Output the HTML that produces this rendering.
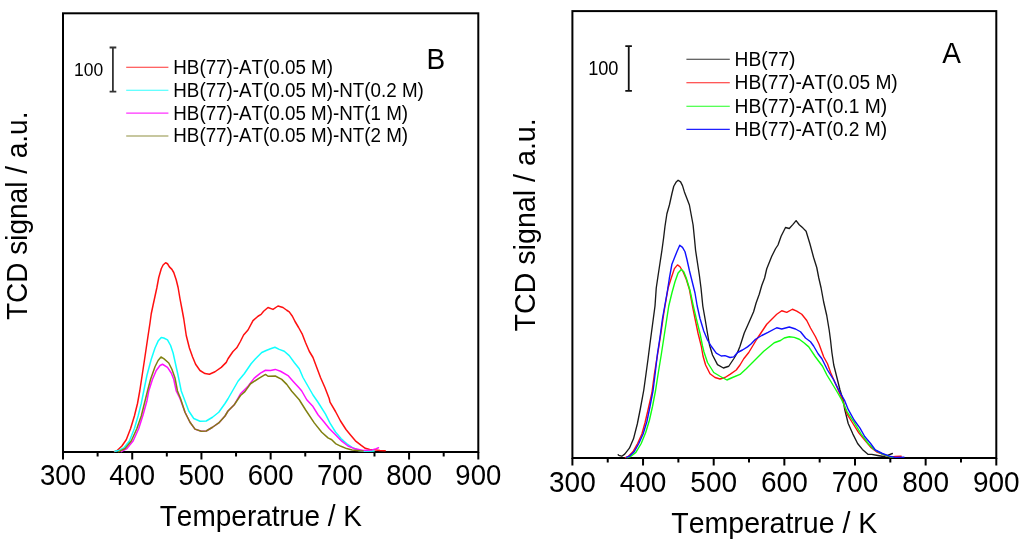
<!DOCTYPE html>
<html><head><meta charset="utf-8"><style>
html,body{margin:0;padding:0;background:#fff;}
body{width:1024px;height:544px;overflow:hidden;position:relative;}
svg{position:absolute;left:0;top:0;will-change:transform;}
text{font-family:"Liberation Sans",sans-serif;fill:#000;font-kerning:none;font-feature-settings:"kern" 0;}
.c{fill:none;stroke-linejoin:round;stroke-linecap:round;}
</style></head><body>
<svg width="1024" height="544" viewBox="0 0 1024 544">
<rect width="1024" height="544" fill="#fff"/>
<!-- LEFT PANEL (B) -->
<rect x="63.0" y="13.3" width="415.30" height="438.70" fill="none" stroke="#000" stroke-width="2"/>
<line x1="63.00" y1="452.0" x2="63.00" y2="459.5" stroke="#000" stroke-width="2"/>
<text transform="translate(63.00,485.3) scale(1,1.095)" text-anchor="middle" style="font-size:27.5px">300</text>
<line x1="97.61" y1="452.0" x2="97.61" y2="456.5" stroke="#000" stroke-width="2"/>
<line x1="132.22" y1="452.0" x2="132.22" y2="459.5" stroke="#000" stroke-width="2"/>
<text transform="translate(132.22,485.3) scale(1,1.095)" text-anchor="middle" style="font-size:27.5px">400</text>
<line x1="166.82" y1="452.0" x2="166.82" y2="456.5" stroke="#000" stroke-width="2"/>
<line x1="201.43" y1="452.0" x2="201.43" y2="459.5" stroke="#000" stroke-width="2"/>
<text transform="translate(201.43,485.3) scale(1,1.095)" text-anchor="middle" style="font-size:27.5px">500</text>
<line x1="236.04" y1="452.0" x2="236.04" y2="456.5" stroke="#000" stroke-width="2"/>
<line x1="270.65" y1="452.0" x2="270.65" y2="459.5" stroke="#000" stroke-width="2"/>
<text transform="translate(270.65,485.3) scale(1,1.095)" text-anchor="middle" style="font-size:27.5px">600</text>
<line x1="305.26" y1="452.0" x2="305.26" y2="456.5" stroke="#000" stroke-width="2"/>
<line x1="339.87" y1="452.0" x2="339.87" y2="459.5" stroke="#000" stroke-width="2"/>
<text transform="translate(339.87,485.3) scale(1,1.095)" text-anchor="middle" style="font-size:27.5px">700</text>
<line x1="374.48" y1="452.0" x2="374.48" y2="456.5" stroke="#000" stroke-width="2"/>
<line x1="409.08" y1="452.0" x2="409.08" y2="459.5" stroke="#000" stroke-width="2"/>
<text transform="translate(409.08,485.3) scale(1,1.095)" text-anchor="middle" style="font-size:27.5px">800</text>
<line x1="443.69" y1="452.0" x2="443.69" y2="456.5" stroke="#000" stroke-width="2"/>
<line x1="478.30" y1="452.0" x2="478.30" y2="459.5" stroke="#000" stroke-width="2"/>
<text transform="translate(478.30,485.3) scale(1,1.095)" text-anchor="middle" style="font-size:27.5px">900</text>
<text transform="translate(260.9,525.9) scale(1,1.06)" text-anchor="middle" style="font-size:28px">Temperatrue / K</text>
<text transform="translate(27.4,215.8) rotate(-90) scale(1,1.067)" text-anchor="middle" style="font-size:28px">TCD signal / a.u.</text>
<text transform="translate(435.9,68.7) scale(1,1.084)" text-anchor="middle" style="font-size:28px">B</text>
<path d="M109.6,47.5 H116.3 M112.9,47.5 V91.6 M109.6,91.6 H116.3" stroke="#333" stroke-width="1.8" fill="none"/>
<text transform="translate(88.7,76.2) scale(1,1.07)" text-anchor="middle" style="font-size:17.5px">100</text>
<line x1="126.2" y1="67.3" x2="168.4" y2="67.3" stroke="#ff3030" stroke-width="1.1"/>
<line x1="126.2" y1="90.2" x2="168.4" y2="90.2" stroke="#30ffff" stroke-width="1.1"/>
<line x1="126.2" y1="113.1" x2="168.4" y2="113.1" stroke="#ff30ff" stroke-width="1.1"/>
<line x1="126.2" y1="136" x2="168.4" y2="136" stroke="#909040" stroke-width="1.1"/>
<text transform="translate(173.3,74.0) scale(1,1.07)" text-anchor="start" style="font-size:18.8px">HB(77)-AT(0.05 M)</text>
<text transform="translate(173.3,96.7) scale(1,1.07)" text-anchor="start" style="font-size:18.8px">HB(77)-AT(0.05 M)-NT(0.2 M)</text>
<text transform="translate(173.3,119.7) scale(1,1.07)" text-anchor="start" style="font-size:18.8px">HB(77)-AT(0.05 M)-NT(1 M)</text>
<text transform="translate(173.3,142.1) scale(1,1.07)" text-anchor="start" style="font-size:18.8px">HB(77)-AT(0.05 M)-NT(2 M)</text>
<polyline class="c" stroke="#ff1010" stroke-width="1.5" points="114.40,451.60 116.90,450.75 121.90,446.00 126.25,439.75 130.60,428.50 134.40,416.00 137.50,403.50 139.75,391.00 142.50,373.00 144.40,360.50 146.25,348.00 148.10,335.50 150.00,323.00 151.25,313.75 153.10,305.00 155.00,296.25 156.90,287.50 158.75,277.50 161.25,268.75 163.10,265.00 165.60,262.75 167.50,263.75 169.40,266.90 171.90,269.40 173.75,272.50 176.25,280.00 178.10,287.50 180.00,298.75 181.90,308.75 183.75,318.75 186.25,335.50 189.40,348.00 192.50,356.75 195.60,364.25 200.00,370.50 205.00,373.60 209.40,374.25 215.00,371.75 221.25,367.40 226.25,362.40 228.00,358.75 233.00,351.50 236.75,347.80 240.50,341.25 243.60,335.00 248.00,330.00 253.00,320.60 258.00,316.25 261.10,314.40 263.60,311.25 268.00,307.50 273.00,309.40 278.00,306.00 283.00,307.50 286.75,310.25 289.25,311.90 292.40,316.25 294.90,321.25 298.60,327.50 302.40,334.40 305.50,342.50 309.25,351.25 313.00,357.50 316.75,367.50 320.50,377.50 324.90,387.50 329.25,398.75 330.00,402.20 335.50,411.50 340.50,421.00 346.00,429.50 350.50,435.00 355.40,440.80 360.90,445.20 365.30,448.30 369.70,449.40 374.10,449.70 380.00,450.50 385.20,450.80"/>
<polyline class="c" stroke="#10ffff" stroke-width="1.5" points="115.00,451.25 118.75,450.40 123.75,447.90 129.40,441.00 134.40,428.50 138.10,416.00 141.25,403.50 143.75,391.00 146.90,375.50 151.25,359.25 155.00,348.00 158.10,341.10 161.25,337.40 163.75,338.00 167.50,339.90 170.60,345.50 173.10,353.00 175.60,364.25 178.10,375.50 181.25,391.00 185.00,401.00 188.75,411.00 193.75,418.50 200.00,421.25 206.25,421.00 212.50,417.25 218.75,412.25 225.00,403.50 228.00,398.75 233.00,390.00 238.00,381.25 244.25,373.75 251.10,363.75 255.50,358.75 261.75,352.50 266.75,350.25 270.50,348.75 274.90,347.25 279.25,349.40 284.25,351.25 289.25,355.60 294.25,362.50 299.25,368.75 303.00,377.50 308.00,386.25 313.00,395.00 318.00,402.25 325.50,414.10 330.00,423.20 335.50,432.00 341.00,438.60 346.60,443.60 353.20,448.00 358.70,450.50 363.10,451.30 374.10,451.00"/>
<polyline class="c" stroke="#ff10ff" stroke-width="1.5" points="121.25,451.60 126.90,448.50 133.10,441.00 138.75,428.50 143.10,414.75 146.90,401.00 148.75,391.00 152.50,379.25 156.25,370.50 160.00,365.50 162.50,364.25 167.50,367.40 171.25,373.00 173.75,379.25 176.25,391.00 180.00,398.50 185.00,412.25 190.00,422.25 195.00,429.10 201.25,431.25 206.25,431.00 212.50,427.25 218.75,422.90 225.00,416.00 228.00,411.00 234.25,404.75 240.50,393.75 248.00,386.25 254.25,378.10 260.50,373.10 265.50,370.25 270.50,370.60 275.25,369.40 280.50,371.25 288.00,375.60 293.00,381.25 299.25,388.10 301.75,391.00 306.75,399.75 313.00,406.60 318.00,414.75 324.25,422.25 329.25,428.50 335.50,434.75 341.75,441.20 348.00,446.00 354.30,448.60 363.10,450.50 372.00,449.90 376.30,448.60 378.50,447.70"/>
<polyline class="c" stroke="#808010" stroke-width="1.5" points="118.75,451.60 125.00,448.50 131.25,441.00 136.90,428.50 141.25,416.00 145.00,401.00 147.50,391.00 150.60,379.25 155.00,366.75 158.10,360.50 161.00,357.00 163.75,358.60 168.75,363.00 171.90,369.25 175.00,378.00 177.50,391.00 180.50,398.50 185.00,412.25 190.00,422.25 195.00,429.10 201.25,431.25 206.25,431.00 212.50,427.25 218.75,422.90 225.00,416.00 228.00,411.00 234.25,404.75 240.50,395.50 244.90,391.60 250.50,383.75 259.25,378.10 265.50,374.40 268.00,376.25 275.25,376.00 281.75,379.40 286.75,384.40 291.75,391.25 299.25,399.75 305.50,409.75 314.25,422.90 321.75,432.25 328.00,437.90 331.75,439.75 335.50,443.60 341.00,446.30 346.60,448.60 352.10,449.90 359.80,450.80 363.10,451.00"/>
<!-- RIGHT PANEL (A) -->
<rect x="572.4" y="11.1" width="423.90" height="446.90" fill="none" stroke="#000" stroke-width="2"/>
<line x1="572.40" y1="458.0" x2="572.40" y2="465.5" stroke="#000" stroke-width="2"/>
<text transform="translate(572.40,492.1) scale(1,1.08)" text-anchor="middle" style="font-size:28px">300</text>
<line x1="607.73" y1="458.0" x2="607.73" y2="462.5" stroke="#000" stroke-width="2"/>
<line x1="643.05" y1="458.0" x2="643.05" y2="465.5" stroke="#000" stroke-width="2"/>
<text transform="translate(643.05,492.1) scale(1,1.08)" text-anchor="middle" style="font-size:28px">400</text>
<line x1="678.38" y1="458.0" x2="678.38" y2="462.5" stroke="#000" stroke-width="2"/>
<line x1="713.70" y1="458.0" x2="713.70" y2="465.5" stroke="#000" stroke-width="2"/>
<text transform="translate(713.70,492.1) scale(1,1.08)" text-anchor="middle" style="font-size:28px">500</text>
<line x1="749.02" y1="458.0" x2="749.02" y2="462.5" stroke="#000" stroke-width="2"/>
<line x1="784.35" y1="458.0" x2="784.35" y2="465.5" stroke="#000" stroke-width="2"/>
<text transform="translate(784.35,492.1) scale(1,1.08)" text-anchor="middle" style="font-size:28px">600</text>
<line x1="819.67" y1="458.0" x2="819.67" y2="462.5" stroke="#000" stroke-width="2"/>
<line x1="855.00" y1="458.0" x2="855.00" y2="465.5" stroke="#000" stroke-width="2"/>
<text transform="translate(855.00,492.1) scale(1,1.08)" text-anchor="middle" style="font-size:28px">700</text>
<line x1="890.32" y1="458.0" x2="890.32" y2="462.5" stroke="#000" stroke-width="2"/>
<line x1="925.65" y1="458.0" x2="925.65" y2="465.5" stroke="#000" stroke-width="2"/>
<text transform="translate(925.65,492.1) scale(1,1.08)" text-anchor="middle" style="font-size:28px">800</text>
<line x1="960.97" y1="458.0" x2="960.97" y2="462.5" stroke="#000" stroke-width="2"/>
<line x1="996.30" y1="458.0" x2="996.30" y2="465.5" stroke="#000" stroke-width="2"/>
<text transform="translate(996.30,492.1) scale(1,1.08)" text-anchor="middle" style="font-size:28px">900</text>
<text transform="translate(774.3,532.8) scale(1,1.03)" text-anchor="middle" style="font-size:28.55px">Temperatrue / K</text>
<text transform="translate(535.4,224.9) rotate(-90) scale(1,1.037)" text-anchor="middle" style="font-size:28.65px">TCD signal / a.u.</text>
<text transform="translate(951.6,62.8) scale(1,1.035)" text-anchor="middle" style="font-size:28px">A</text>
<path d="M625.3,46.1 H631.9 M628.75,46.1 V90.9 M625.3,90.9 H631.9" stroke="#111" stroke-width="1.8" fill="none"/>
<text transform="translate(603.3,75.3) scale(1,1.07)" text-anchor="middle" style="font-size:18.2px">100</text>
<line x1="686.4" y1="59.3" x2="729.8" y2="59.3" stroke="#333" stroke-width="1.1"/>
<line x1="686.4" y1="82.8" x2="729.8" y2="82.8" stroke="#ff2020" stroke-width="1.1"/>
<line x1="686.4" y1="106.2" x2="729.8" y2="106.2" stroke="#20ff20" stroke-width="1.1"/>
<line x1="686.4" y1="129.4" x2="729.8" y2="129.4" stroke="#2020ff" stroke-width="1.1"/>
<text transform="translate(734.6,65.8) scale(1,1.07)" text-anchor="start" style="font-size:19.2px">HB(77)</text>
<text transform="translate(734.6,89.2) scale(1,1.07)" text-anchor="start" style="font-size:19.2px">HB(77)-AT(0.05 M)</text>
<text transform="translate(734.6,112.6) scale(1,1.07)" text-anchor="start" style="font-size:19.2px">HB(77)-AT(0.1 M)</text>
<text transform="translate(734.6,136) scale(1,1.07)" text-anchor="start" style="font-size:19.2px">HB(77)-AT(0.2 M)</text>
<polyline class="c" stroke="#1a1a1a" stroke-width="1.35" points="618.20,454.70 618.80,455.30 621.80,456.20 624.70,454.10 629.40,448.20 633.50,438.80 637.30,424.00 640.30,409.00 643.75,390.25 646.00,374.00 648.10,358.50 650.00,343.50 652.50,324.75 655.00,306.00 656.25,288.00 658.10,275.50 660.00,263.00 661.90,250.50 663.60,238.00 665.00,226.25 666.90,213.75 669.40,205.00 671.90,193.75 673.75,186.25 676.25,181.90 678.10,180.25 680.60,181.90 682.50,185.60 684.40,191.90 687.50,200.00 689.40,205.00 691.25,215.00 693.10,225.00 694.40,238.00 695.60,250.50 697.50,263.00 699.40,275.50 701.00,288.00 702.80,306.00 705.00,318.50 707.50,333.50 709.50,345.00 712.50,355.00 717.50,364.60 723.40,368.00 728.75,366.25 733.75,358.75 737.50,352.50 740.00,346.25 742.00,340.00 744.25,333.00 749.25,321.75 753.60,311.75 756.10,303.00 759.25,294.25 761.75,285.50 764.60,278.00 766.75,268.75 769.25,262.50 771.75,256.25 775.50,248.75 778.00,245.00 781.10,236.25 785.50,227.50 789.25,228.50 793.00,224.40 796.10,220.60 799.25,224.75 803.00,228.10 806.10,231.25 809.90,243.75 813.60,257.50 816.75,267.50 818.80,278.00 821.10,288.00 823.60,301.75 826.75,315.50 829.25,330.50 830.50,340.00 831.90,352.50 833.75,365.00 836.90,377.50 840.00,390.00 843.10,400.00 844.70,409.40 848.20,423.50 852.90,434.10 857.60,443.50 862.40,449.40 868.20,454.40 871.80,454.40 877.60,455.50 883.50,456.50 888.20,455.10 892.40,453.50"/>
<polyline class="c" stroke="#ff1010" stroke-width="1.4" points="625.30,457.60 628.20,456.50 632.90,451.80 637.60,443.50 641.90,434.00 645.00,422.75 648.00,410.00 651.90,392.75 654.40,374.00 656.25,362.25 658.75,347.25 661.25,331.00 663.75,313.50 665.00,306.00 668.10,288.00 671.25,278.00 674.40,268.60 677.50,264.90 680.00,266.75 683.10,271.75 686.25,279.25 689.40,289.25 692.50,306.00 695.00,318.50 698.10,333.50 701.25,346.00 703.00,356.00 705.60,365.00 710.00,373.75 715.00,377.50 720.00,379.00 725.00,377.50 730.00,374.40 736.25,370.00 740.00,365.00 743.75,358.75 748.75,352.50 752.50,346.25 756.75,339.25 761.75,331.75 766.75,324.25 771.75,319.25 776.75,314.25 781.75,310.75 786.75,312.40 792.40,309.25 796.75,311.10 801.75,314.25 806.75,320.50 810.50,328.00 815.50,336.75 819.00,344.00 823.75,357.00 827.50,363.75 830.60,372.50 834.40,381.25 838.75,391.25 842.40,399.50 847.10,414.10 852.90,423.50 858.80,432.90 864.70,440.00 870.60,447.10 876.50,451.80 883.50,454.70 890.60,457.10 895.30,456.50 901.20,456.20"/>
<polyline class="c" stroke="#10ff10" stroke-width="1.4" points="627.00,457.60 630.60,456.50 635.90,452.40 641.20,443.50 645.60,432.75 649.40,420.25 652.50,406.50 655.60,390.25 658.10,374.00 661.25,354.75 663.75,338.50 666.25,322.25 668.75,306.00 671.90,293.00 675.00,281.75 678.10,273.00 681.25,269.50 683.75,271.75 686.25,278.00 690.00,290.50 693.30,306.00 696.25,318.50 700.00,333.50 702.50,346.00 704.00,352.00 707.50,362.50 713.75,372.50 720.00,376.25 726.90,380.00 732.50,377.50 740.00,374.40 746.25,368.75 752.50,362.50 758.75,356.25 763.75,351.25 770.00,346.25 774.25,342.75 780.50,340.50 784.25,338.00 789.25,336.75 794.25,337.40 799.25,339.25 804.25,343.00 808.75,346.90 815.00,356.25 822.50,366.25 826.90,375.00 833.75,386.25 837.50,392.50 841.80,400.00 847.10,411.80 854.10,422.40 861.20,434.10 868.20,443.50 874.10,449.40 881.20,453.50 888.20,456.20 892.90,457.40"/>
<polyline class="c" stroke="#1010ff" stroke-width="1.4" points="626.50,457.40 629.40,456.20 634.10,451.80 638.80,443.50 643.10,434.00 646.90,421.50 650.00,406.50 653.10,390.25 655.10,374.00 657.50,353.50 660.00,337.25 662.50,318.50 664.75,306.00 667.50,290.50 669.40,278.00 671.90,264.25 674.40,258.00 676.90,251.75 679.75,245.25 682.50,247.40 685.00,251.75 686.90,259.25 689.40,270.50 691.90,280.50 695.00,293.00 697.20,306.00 700.00,318.50 703.75,331.00 707.50,340.00 711.25,346.25 716.25,353.10 721.25,356.00 725.00,355.60 730.00,357.50 733.75,356.90 737.50,352.50 742.50,350.00 747.50,346.90 751.00,344.00 755.50,339.25 761.75,335.50 768.00,332.40 776.75,327.75 781.75,329.00 789.25,327.00 795.50,329.00 800.50,331.75 805.50,338.00 810.50,341.75 813.60,346.00 818.10,353.75 821.90,358.75 827.50,370.00 833.75,380.00 840.00,392.50 844.40,400.00 848.20,409.40 854.10,420.00 860.00,428.20 864.70,436.50 870.60,443.50 875.30,450.00 882.40,453.50 889.40,456.20 895.30,457.40 904.00,457.10"/>
</svg>
</body></html>
